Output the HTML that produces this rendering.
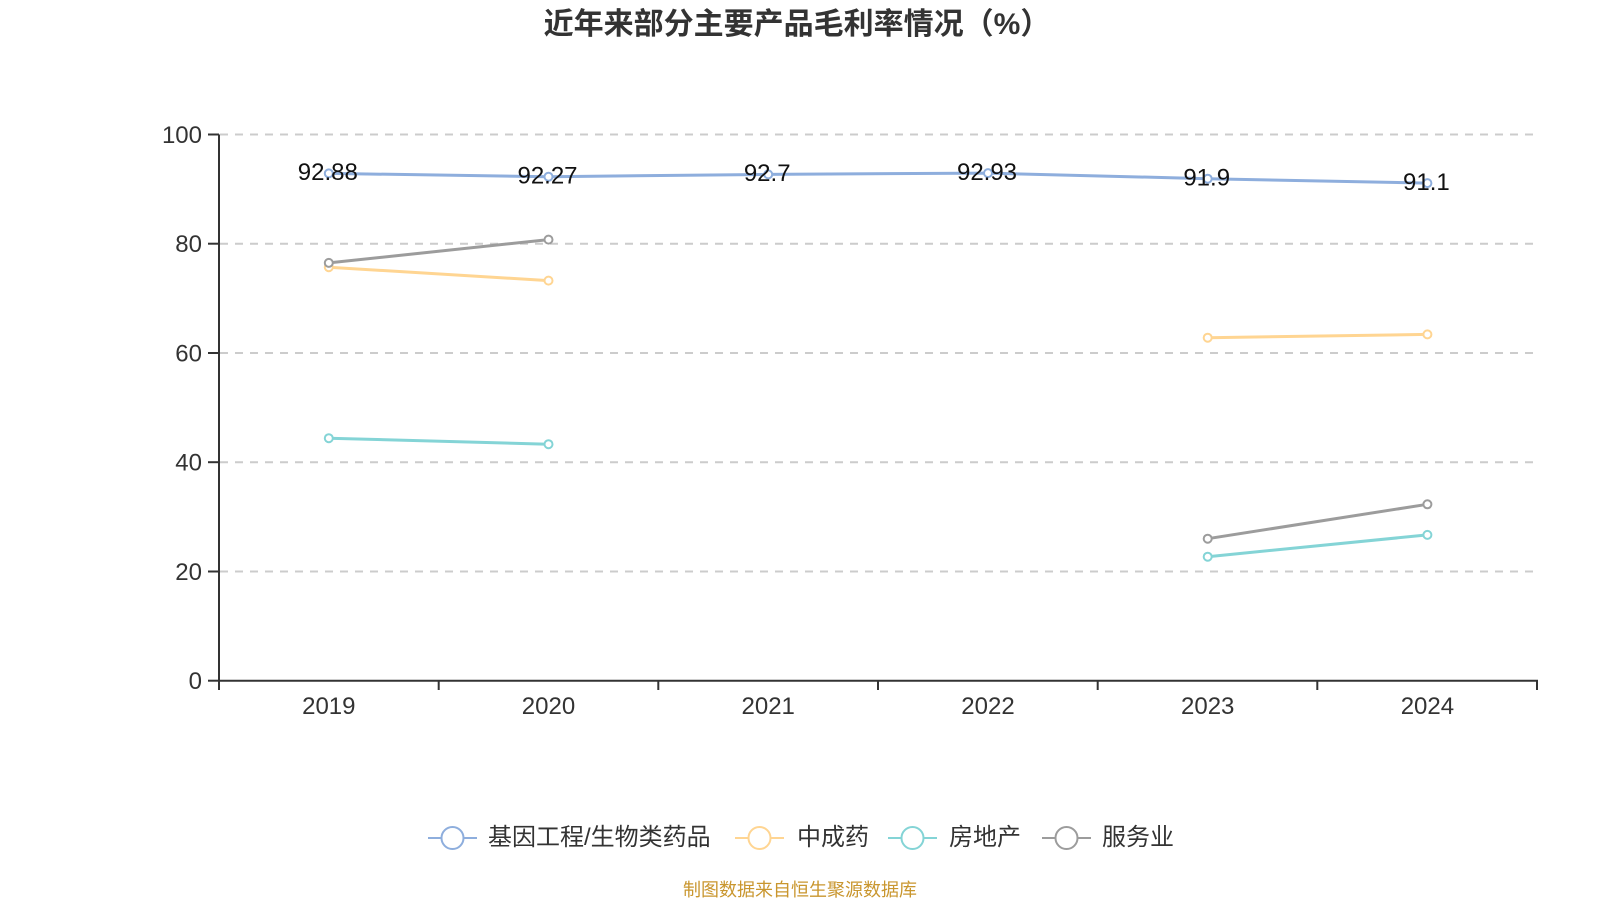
<!DOCTYPE html>
<html>
<head>
<meta charset="utf-8">
<style>
  html,body{margin:0;padding:0;background:#fff;}
  svg{display:block;}
  text{font-family:"Liberation Sans","Noto Sans CJK SC",sans-serif;}
</style>
</head>
<body>
<svg width="1600" height="900" viewBox="0 0 1600 900" xmlns="http://www.w3.org/2000/svg">
  <rect width="1600" height="900" fill="#fff"/>
  <!-- Title -->
  <text x="797" y="34" text-anchor="middle" font-size="30" font-weight="bold" fill="#333">近年来部分主要产品毛利率情况（%）</text>

  <!-- Grid lines -->
  <g stroke="#cccccc" stroke-width="2" stroke-dasharray="8,7" fill="none">
    <line x1="220" y1="134.5" x2="1537" y2="134.5"/>
    <line x1="220" y1="243.7" x2="1537" y2="243.7"/>
    <line x1="220" y1="353" x2="1537" y2="353"/>
    <line x1="220" y1="462.2" x2="1537" y2="462.2"/>
    <line x1="220" y1="571.5" x2="1537" y2="571.5"/>
  </g>

  <!-- Y axis -->
  <g stroke="#333" stroke-width="2" fill="none">
    <line x1="219" y1="134.5" x2="219" y2="681"/>
    <line x1="208" y1="134.5" x2="219" y2="134.5"/>
    <line x1="208" y1="243.7" x2="219" y2="243.7"/>
    <line x1="208" y1="353" x2="219" y2="353"/>
    <line x1="208" y1="462.2" x2="219" y2="462.2"/>
    <line x1="208" y1="571.5" x2="219" y2="571.5"/>
    <line x1="208" y1="680.7" x2="219" y2="680.7"/>
  </g>
  <g font-size="24" fill="#333" text-anchor="end">
    <text x="202" y="143">100</text>
    <text x="202" y="252">80</text>
    <text x="202" y="361.5">60</text>
    <text x="202" y="470.5">40</text>
    <text x="202" y="580">20</text>
    <text x="202" y="689">0</text>
  </g>

  <!-- X axis -->
  <g stroke="#333" stroke-width="2" fill="none">
    <line x1="218" y1="680.7" x2="1538" y2="680.7"/>
    <line x1="219" y1="680.7" x2="219" y2="690"/>
    <line x1="438.7" y1="680.7" x2="438.7" y2="690"/>
    <line x1="658.3" y1="680.7" x2="658.3" y2="690"/>
    <line x1="878" y1="680.7" x2="878" y2="690"/>
    <line x1="1097.7" y1="680.7" x2="1097.7" y2="690"/>
    <line x1="1317.3" y1="680.7" x2="1317.3" y2="690"/>
    <line x1="1537" y1="680.7" x2="1537" y2="690"/>
  </g>
  <g font-size="24" fill="#333" text-anchor="middle">
    <text x="328.8" y="714">2019</text>
    <text x="548.5" y="714">2020</text>
    <text x="768.2" y="714">2021</text>
    <text x="988" y="714">2022</text>
    <text x="1207.7" y="714">2023</text>
    <text x="1427.4" y="714">2024</text>
  </g>

  <!-- Series: 基因工程/生物类药品 -->
  <polyline points="328.8,173.4 548.5,176.7 768.2,174.4 988,173.1 1207.7,178.7 1427.4,183.1" fill="none" stroke="#8eaedd" stroke-width="3" stroke-linejoin="round"/>
  <g fill="#fff" stroke="#8eaedd" stroke-width="2">
    <circle cx="328.8" cy="173.4" r="4"/>
    <circle cx="548.5" cy="176.7" r="4"/>
    <circle cx="768.2" cy="174.4" r="4"/>
    <circle cx="988" cy="173.1" r="4"/>
    <circle cx="1207.7" cy="178.7" r="4"/>
    <circle cx="1427.4" cy="183.1" r="4"/>
  </g>

  <!-- Series: 中成药 -->
  <g fill="none" stroke="#ffd592" stroke-width="3">
    <polyline points="328.8,267.2 548.5,280.6"/>
    <polyline points="1207.7,337.7 1427.4,334.4"/>
  </g>
  <g fill="#fff" stroke="#ffd592" stroke-width="2">
    <circle cx="328.8" cy="267.2" r="4"/>
    <circle cx="548.5" cy="280.6" r="4"/>
    <circle cx="1207.7" cy="337.7" r="4"/>
    <circle cx="1427.4" cy="334.4" r="4"/>
  </g>

  <!-- Series: 房地产 -->
  <g fill="none" stroke="#84d4d6" stroke-width="3">
    <polyline points="328.8,438.2 548.5,444.2"/>
    <polyline points="1207.7,556.7 1427.4,534.9"/>
  </g>
  <g fill="#fff" stroke="#84d4d6" stroke-width="2">
    <circle cx="328.8" cy="438.2" r="4"/>
    <circle cx="548.5" cy="444.2" r="4"/>
    <circle cx="1207.7" cy="556.7" r="4"/>
    <circle cx="1427.4" cy="534.9" r="4"/>
  </g>

  <!-- Series: 服务业 -->
  <g fill="none" stroke="#9c9c9c" stroke-width="3">
    <polyline points="328.8,262.9 548.5,239.6"/>
    <polyline points="1207.7,538.7 1427.4,504.3"/>
  </g>
  <g fill="#fff" stroke="#9c9c9c" stroke-width="2">
    <circle cx="328.8" cy="262.9" r="4"/>
    <circle cx="548.5" cy="239.6" r="4"/>
    <circle cx="1207.7" cy="538.7" r="4"/>
    <circle cx="1427.4" cy="504.3" r="4"/>
  </g>

  <!-- Data labels -->
  <g font-size="24" fill="#111" text-anchor="middle">
    <text x="327.8" y="180">92.88</text>
    <text x="547.5" y="183.4">92.27</text>
    <text x="767.2" y="181.2">92.7</text>
    <text x="987" y="179.8">92.93</text>
    <text x="1206.7" y="185.4">91.9</text>
    <text x="1426.4" y="190">91.1</text>
  </g>

  <!-- Legend -->
  <g stroke-width="2" fill="#fff">
    <line x1="428" y1="838" x2="477" y2="838" stroke="#8eaedd"/>
    <circle cx="452.5" cy="838" r="11" stroke="#8eaedd"/>
    <line x1="735" y1="838" x2="784" y2="838" stroke="#ffd592"/>
    <circle cx="759.5" cy="838" r="11" stroke="#ffd592"/>
    <line x1="888" y1="838" x2="937" y2="838" stroke="#84d4d6"/>
    <circle cx="912.5" cy="838" r="11" stroke="#84d4d6"/>
    <line x1="1042" y1="838" x2="1091" y2="838" stroke="#9c9c9c"/>
    <circle cx="1066.5" cy="838" r="11" stroke="#9c9c9c"/>
  </g>
  <g font-size="24" fill="#333">
    <text x="488" y="845">基因工程/生物类药品</text>
    <text x="797" y="845">中成药</text>
    <text x="949" y="845">房地产</text>
    <text x="1102" y="845">服务业</text>
  </g>

  <!-- Source -->
  <text x="800" y="896" text-anchor="middle" font-size="18" fill="#c9962e">制图数据来自恒生聚源数据库</text>
</svg>
</body>
</html>
